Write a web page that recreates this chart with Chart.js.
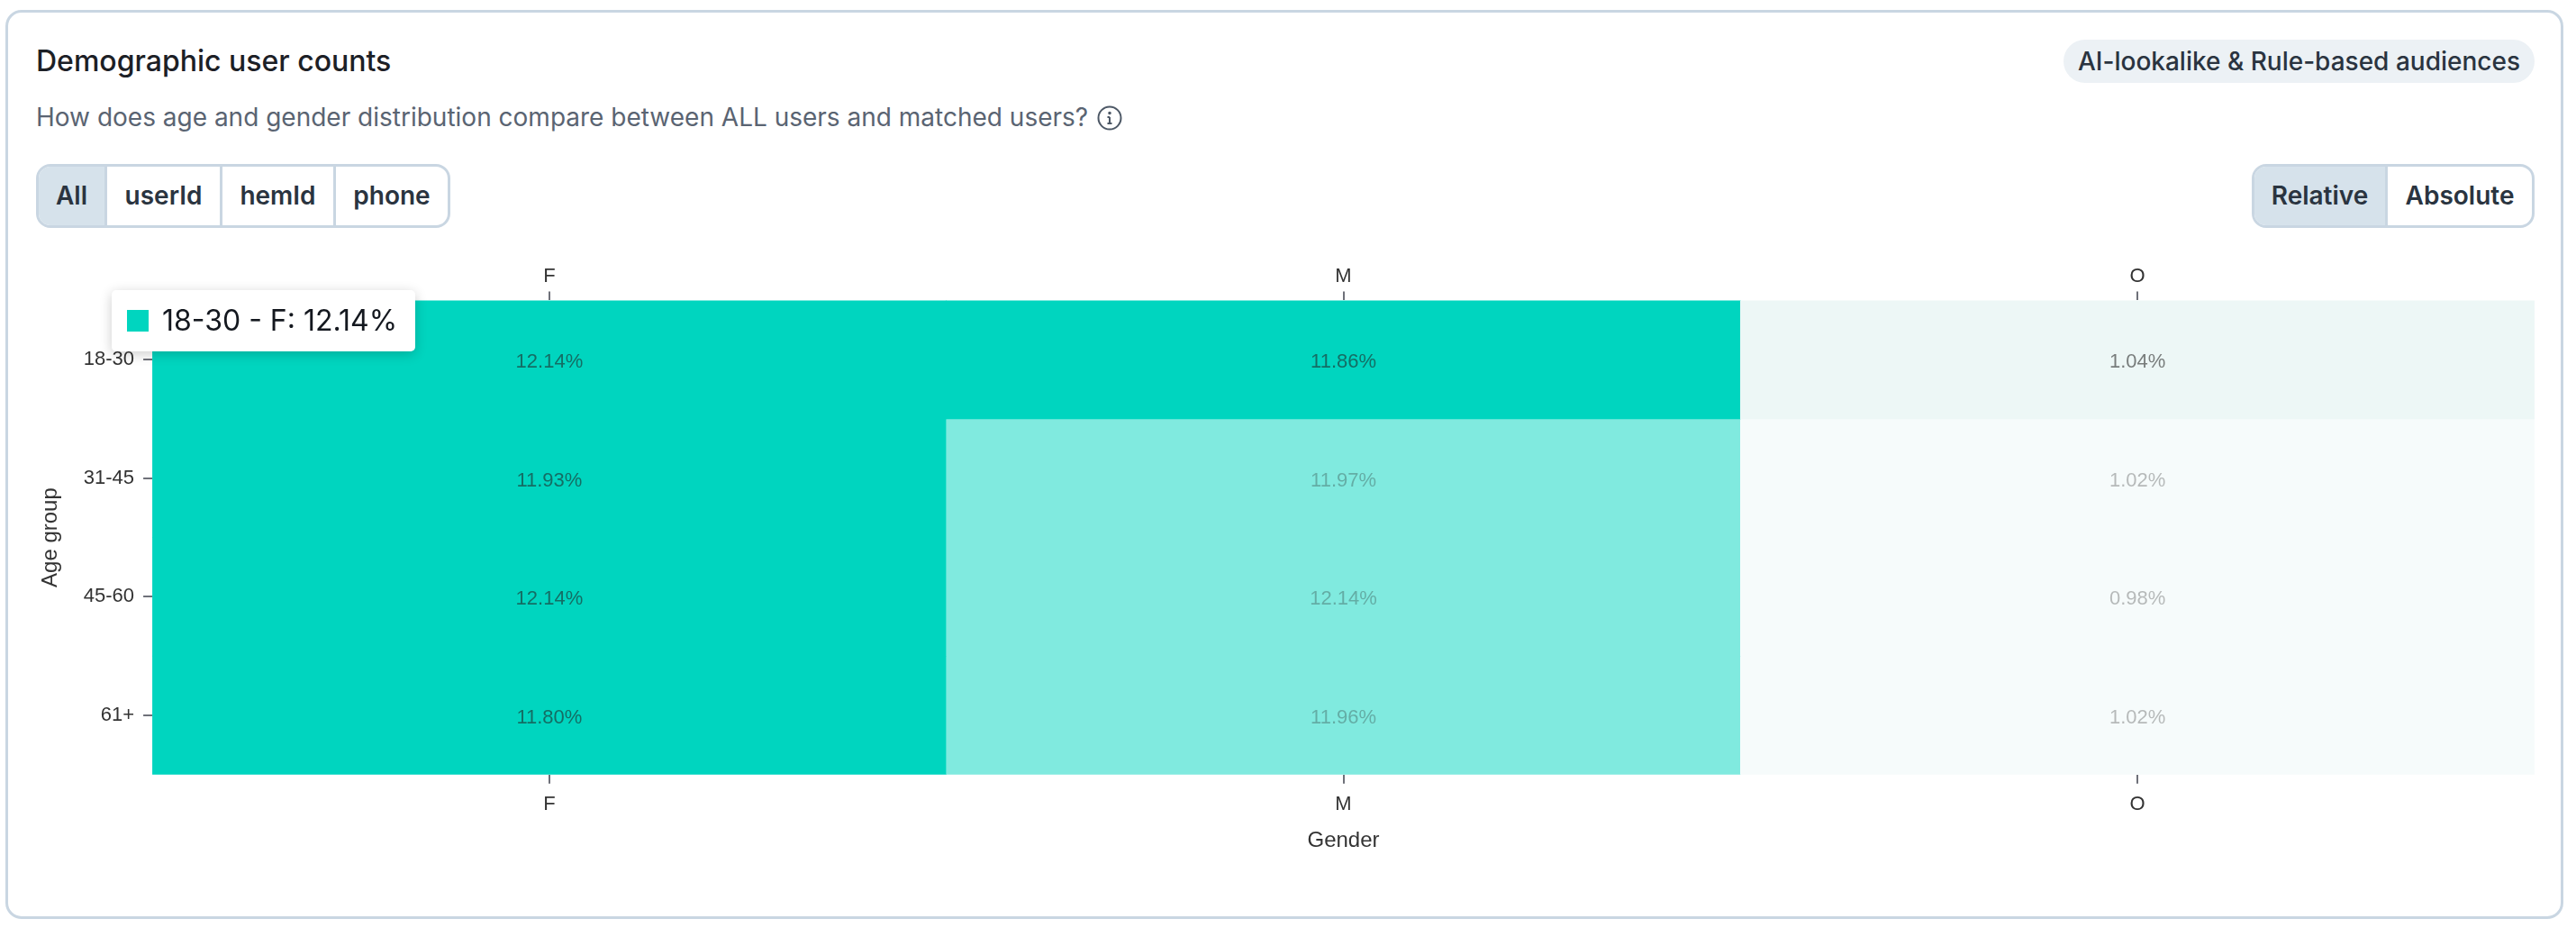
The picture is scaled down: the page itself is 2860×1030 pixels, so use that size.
<!DOCTYPE html>
<html>
<head>
<meta charset="utf-8">
<title>Demographic user counts</title>
<script src="https://cdn.jsdelivr.net/npm/chart.js@4"></script>
<style>
  html, body { margin: 0; padding: 0; background: #fff; width: 2860px; height: 1030px; overflow: hidden; font-family: Inter, sans-serif; }
  .card { position: absolute; left: 6px; top: 11px; width: 2834px; height: 1003px; border: 3px solid #c9d6e2; border-radius: 18px; }
  .title { position: absolute; left: 40px; top: 48px; font-size: 32px; line-height: 40px; font-weight: 500; color: #1c2026; white-space: nowrap; }
  .sub { position: absolute; left: 40px; top: 112px; font-size: 28px; line-height: 36px; color: #5a6472; white-space: nowrap; }
  .info { position: absolute; left: 1218px; top: 117px; }
  .pill { position: absolute; left: 2291px; top: 44px; width: 523px; height: 48px; line-height: 48px; border-radius: 24px; background: #ecf1f5; color: #2a3440; font-size: 28px; font-weight: 500; text-align: center; white-space: nowrap; }
  .seg { position: absolute; top: 182px; height: 71px; box-sizing: border-box; border: 3px solid #c9d6e2; border-radius: 16px; display: flex; overflow: hidden; }
  .seg div { box-sizing: border-box; height: 100%; line-height: 65px; text-align: center; font-size: 28px; font-weight: 600; color: #2a3440; border-left: 3px solid #c9d6e2; }
  .seg div:first-child { border-left: 0; }
  .seg .on { background: #d6e2eb; }
  canvas { position: absolute; left: 0; top: 280px; }
  #tip { position: absolute; left: 124px; top: 322px; width: 337px; height: 68px; box-sizing: border-box; background: #fff; border-radius: 5px; box-shadow: 0 3px 14px rgba(0,0,0,.2); font-size: 32px; line-height: 68px; color: #14181f; white-space: nowrap; }
  #tip i { position: absolute; left: 17px; top: 22px; width: 24px; height: 24px; }
  #tip span { position: absolute; left: 56px; top: 0; }
</style>
</head>
<body>
<div class="card"></div>
<div class="title">Demographic user counts</div>
<div class="sub">How does age and gender distribution compare between ALL users and matched users?</div>
<svg class="info" width="28" height="28" viewBox="0 0 28 28" fill="none" stroke="#4d5866" stroke-width="2">
  <circle cx="14" cy="14" r="12.500"/><path d="M14 13v7M11.500 20h5M11.500 13H14"/><circle cx="14" cy="8.500" r=".8" fill="#4d5866"/>
</svg>
<div class="pill">AI-lookalike &amp; Rule-based audiences</div>
<div class="seg" style="left:40px;width:460px">
  <div class="on" style="width:73px">All</div><div style="width:128px">userId</div><div style="width:126px">hemId</div><div style="width:127px">phone</div>
</div>
<div class="seg" style="left:2500px;width:314px">
  <div class="on" style="width:145px">Relative</div><div style="width:163px">Absolute</div>
</div>
<canvas id="heat" width="2860" height="680"></canvas>
<div id="tip" style="display:none"></div>

<script>
var genders = ['F', 'M', 'O'];
var ageGroups = ['18-30', '31-45', '45-60', '61+'];
// share of users in % per gender, same order as genders
var age18to30 = [12.14, 11.86, 1.04];
var age31to45 = [11.93, 11.97, 1.02];
var age45to60 = [12.14, 12.14, 0.98];
var age61plus = [11.80, 11.96, 1.02];
var rows = [age18to30, age31to45, age45to60, age61plus];

// the cell under the mouse in the picture
var hoverAge = 0;
var hoverGender = 0;

function isDim(ctx) {
  return ctx.datasetIndex !== hoverAge && ctx.dataIndex !== hoverGender;
}

function cellColor(ctx) {
  var high = ctx.raw.v > 6;
  if (isDim(ctx)) return high ? '#80eadf' : '#f6fbfb';
  return high ? '#00d5bf' : '#edf7f6';
}

var cellLabels = {
  id: 'cellLabels',
  afterDatasetsDraw: function(chart) {
    var c = chart.ctx;
    c.save();
    c.font = '22px "Liberation Sans"';
    c.textAlign = 'center';
    c.textBaseline = 'middle';
    chart.data.datasets.forEach(function(ds, i) {
      chart.getDatasetMeta(i).data.forEach(function(el, j) {
        var p = el.getCenterPoint();
        var dim = i !== hoverAge && j !== hoverGender;
        c.fillStyle = dim ? 'rgba(34,34,34,.3)' : 'rgba(34,34,34,.58)';
        c.fillText(ds.data[j].v.toFixed(2) + '%', p.x, p.y + 3);
      });
    });
    c.restore();
  }
};

function htmlTip(context) {
  var t = context.tooltip;
  var tip = document.getElementById('tip');
  if (t.opacity === 0) { tip.style.display = 'none'; return; }
  tip.style.display = 'block';
  tip.innerHTML = '<i style="background:' + t.labelColors[0].backgroundColor + '"></i><span>' + t.body[0].lines[0] + '</span>';
}

var tickFont = { family: 'Liberation Sans', size: 22 };
var titleFont = { family: 'Liberation Sans', size: 24 };
var tickGrid = { drawOnChartArea: false, offset: false, tickLength: 10, tickColor: '#6e7079', lineWidth: 2 };

var chart = new Chart(document.getElementById('heat'), {
  type: 'bar',
  data: {
    datasets: rows.map(function(row, i) {
      return {
        label: ageGroups[i],
        grouped: false,
        barPercentage: 1,
        categoryPercentage: 1,
        borderWidth: 0,
        backgroundColor: cellColor,
        hoverBackgroundColor: cellColor,
        xAxisID: 'x',
        yAxisID: 'y',
        data: genders.map(function(g, j) {
          return { x: g, y: [i, i + 1], v: row[j] };
        })
      };
    })
  },
  options: {
    responsive: false,
    animation: false,
    events: [],
    layout: { padding: { left: 42, right: 46, top: 11, bottom: 12 } },
    scales: {
      x: {
        type: 'category', labels: genders, position: 'bottom', offset: true,
        grid: tickGrid, border: { display: false },
        ticks: { color: '#333', font: tickFont, padding: 10, maxRotation: 0 },
        title: { display: true, text: 'Gender', color: '#333', font: titleFont, padding: { top: 3, bottom: 0 } }
      },
      xTop: {
        type: 'category', labels: genders, position: 'top', offset: true,
        grid: tickGrid, border: { display: false },
        ticks: { color: '#333', font: tickFont, padding: 3, maxRotation: 0 }
      },
      y: { type: 'linear', display: false, min: 0, max: 4, reverse: true },
      yAge: {
        type: 'category', labels: ageGroups, position: 'left', offset: true,
        grid: tickGrid, border: { display: false },
        ticks: { color: '#333', font: tickFont, padding: 10 },
        title: { display: true, text: 'Age group', color: '#333', font: titleFont, padding: { top: 0, bottom: 12 } }
      }
    },
    plugins: {
      legend: { display: false },
      tooltip: {
        enabled: false,
        external: htmlTip,
        callbacks: {
          title: function() { return ''; },
          label: function(ctx) {
            return ctx.dataset.label + ' - ' + ctx.raw.x + ': ' + ctx.raw.v.toFixed(2) + '%';
          }
        }
      }
    }
  },
  plugins: [cellLabels]
});

chart.tooltip.setActiveElements([{ datasetIndex: hoverAge, index: hoverGender }], { x: 0, y: 0 });
chart.update();
</script>
</body>
</html>
